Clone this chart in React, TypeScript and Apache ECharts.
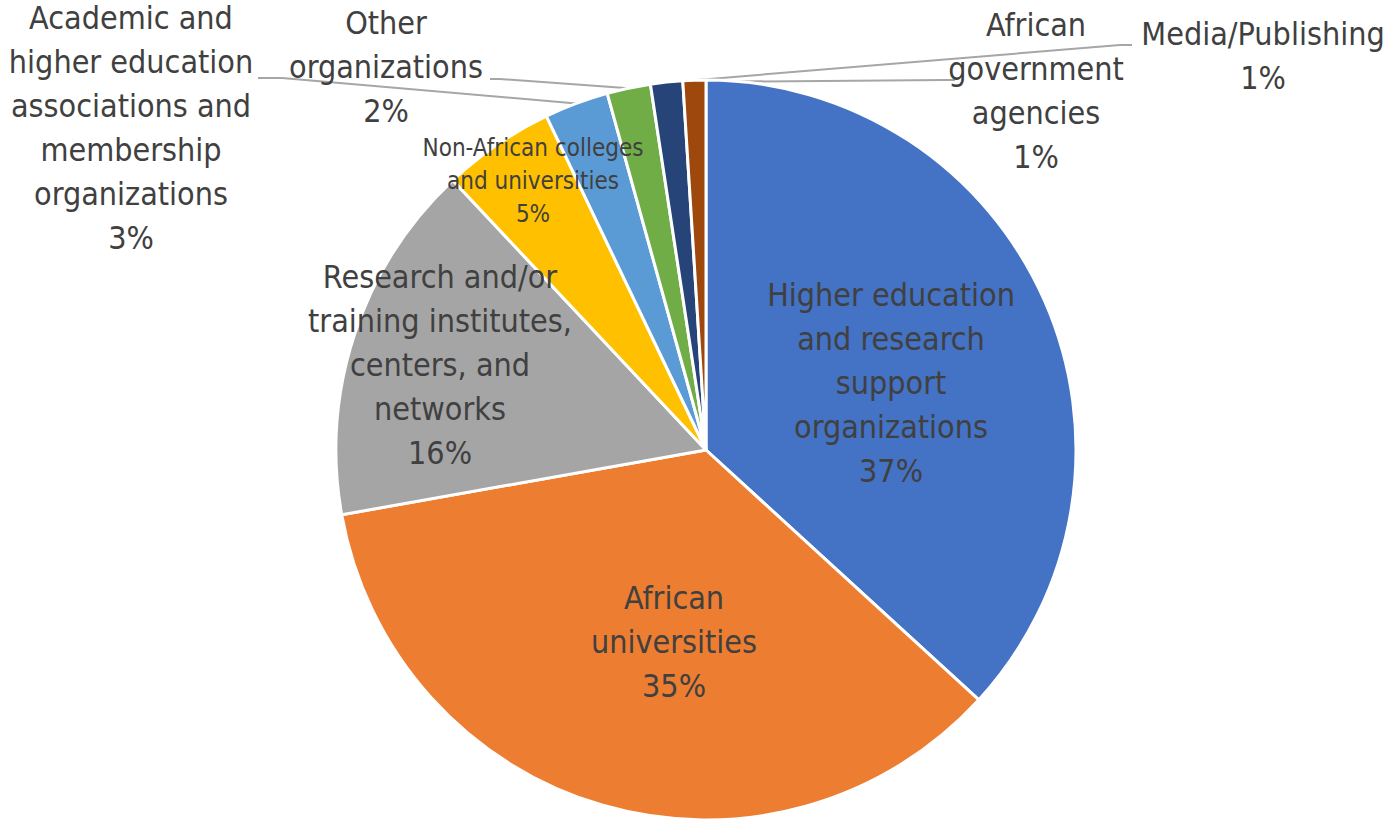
import React, { useEffect, useRef } from "react";
import * as echarts from "echarts";

const categories = [
  "Higher education\nand research\nsupport\norganizations",
  "African\nuniversities",
  "Research and/or\ntraining institutes,\ncenters, and\nnetworks",
  "Non-African colleges\nand universities",
  "Academic and\nhigher education\nassociations and\nmembership\norganizations",
  "Other\norganizations",
  "African\ngovernment\nagencies",
  "Media/Publishing",
];
const values = [36.8, 35.4, 15.8, 4.9, 2.8, 1.9, 1.4, 1.0];
const colors = ["#4472C4", "#ED7D31", "#A5A5A5", "#FFC000", "#5B9BD5", "#70AD47", "#264478", "#9E480E"];
const outside = [false, false, false, false, true, true, true, true];

// label block centres (layout, not data)
const labelCenters: number[][] = [
  [891, 383], [674, 642], [440, 365], [533, 181], [131, 128], [386, 67], [1036, 91], [1263, 56],
];
// leader line elbow / end points for outside labels (layout, not data)
const leaderEnds: (number[][] | null)[] = [
  null, null, null, null,
  [[282, 78], [258, 78]],
  [[500, 79], [490, 79]],
  [[945, 80], [955, 80]],
  [[1120, 45], [1132, 45]],
];

const FONT = "'DejaVu Sans Condensed', 'Liberation Sans Narrow', 'Open Sans', sans-serif";

export default function App() {
  const ref = useRef<HTMLDivElement>(null);
  useEffect(() => {
    const chart = echarts.init(ref.current!, null, { renderer: "svg" });
    chart.setOption({
      animation: false,
      backgroundColor: "#ffffff",
      series: [
        {
          type: "pie",
          center: [706, 450],
          radius: 370,
          startAngle: 90,
          clockwise: true,
          percentPrecision: 0,
          avoidLabelOverlap: false,
          itemStyle: { borderColor: "#ffffff", borderWidth: 3 },
          label: {
            color: "#404040",
            fontFamily: FONT,
            fontSize: 32,
            lineHeight: 44,
            align: "center",
            formatter: "{b}\n{d}%",
          },
          labelLine: { lineStyle: { color: "#A6A6A6", width: 2 }, length: 20, length2: 20 },
          labelLayout: (p: any) => {
            const c = labelCenters[p.dataIndex];
            const res: any = { x: c[0], y: c[1], align: "center", verticalAlign: "middle" };
            const ends = leaderEnds[p.dataIndex];
            if (ends && p.labelLinePoints && p.labelLinePoints.length) {
              res.labelLinePoints = [p.labelLinePoints[0], ends[0], ends[1]];
            }
            return res;
          },
          data: categories.map((name, i) => ({
            name,
            value: values[i],
            itemStyle: { color: colors[i] },
            label: {
              position: outside[i] ? "outside" : "inside",
              ...(i === 3 ? { fontSize: 24, lineHeight: 33 } : {}),
            },
            labelLine: { show: outside[i] },
          })),
        },
      ],
    });
    return () => chart.dispose();
  }, []);
  return <div ref={ref} style={{ position: "fixed", left: 0, top: 0, width: 1396, height: 822 }} />;
}
